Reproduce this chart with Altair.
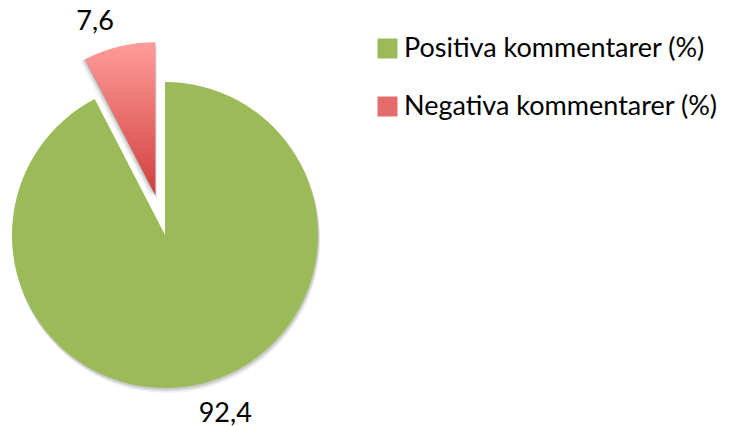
import math
import altair as alt
import pandas as pd

categories = ["Positiva kommentarer (%)", "Negativa kommentarer (%)"]
values = [92.4, 7.6]
colors = ["#9BBB59", "#E46C6A"]

df = pd.DataFrame({"cat": categories, "value": values, "order": [0, 1]})

W, H = 713, 418
CX, CY = 157, 227
R = 153
EXPLODE = 41
LABEL_R = 186
LABEL_SHIFT = 1.45  # percent of circle
FONT = "Lato"
FS = 27

# explode offset for the negative slice along its bisector
mid_neg = (values[0] + values[0] + values[1]) / 2 / 100 * 2 * math.pi
dx = EXPLODE * math.sin(mid_neg)
dy = -EXPLODE * math.cos(mid_neg)

base = alt.Chart(df).transform_window(
    end="sum(value)", sort=[alt.SortField("order")], frame=[None, 0]
).transform_calculate(
    start="datum.end - datum.value",
    mid="(datum.start + datum.end) / 2",
    label="replace(format(datum.value, '.1f'), '.', ',')",
)

theta_scale = alt.Scale(domain=[0, 100], range=[0, 2 * math.pi])
theta = alt.Theta("start:Q", scale=theta_scale)


def shadow(order, ox, oy, off, op):
    return base.transform_filter(alt.datum.order == order).mark_arc(
        x=ox + off * 0.4, y=oy + off, radius=R + 0.5, fill="#000000", opacity=op
    ).encode(theta=theta, theta2="end:Q")


shadows = []
for off, op in [(1.5, 0.10), (3, 0.07), (4.5, 0.05)]:
    shadows.append(shadow(0, CX, CY, off, op))
    shadows.append(shadow(1, CX + dx, CY + dy, off, op))
    shadows.append(
        base.transform_filter(alt.datum.order == 1).mark_arc(
            x=CX + dx - off, y=CY + dy + off * 0.5, radius=R, fill="#000000", opacity=op
        ).encode(theta=theta, theta2="end:Q")
    )

green = base.transform_filter(alt.datum.order == 0).mark_arc(
    x=CX, y=CY, radius=R
).encode(
    theta=theta,
    theta2="end:Q",
    color=alt.Color(
        "cat:N",
        scale=alt.Scale(domain=categories, range=colors),
        sort=categories,
        legend=alt.Legend(
            title=None,
            orient="none",
            legendX=366,
            legendY=27,
            symbolType="square",
            symbolSize=400,
            symbolStrokeWidth=0,
            labelFontSize=FS,
            labelFont=FONT,
            labelColor="#000000",
            labelOffset=3,
            rowPadding=30,
            labelLimit=400,
        ),
    ),
)

red = base.transform_filter(alt.datum.order == 1).mark_arc(
    x=CX + dx,
    y=CY + dy,
    radius=R,
    fill=alt.Gradient(
        gradient="linear",
        x1=0, x2=0, y1=0, y2=1,
        stops=[
            alt.GradientStop(color="#FF9C9A", offset=0),
            alt.GradientStop(color="#D0403D", offset=1),
        ],
    ),
).encode(
    theta=theta,
    theta2="end:Q",
)

labels = base.transform_calculate(
    cx=f"datum.order == 1 ? {CX + dx} : {CX}",
    cy=f"datum.order == 1 ? {CY + dy} : {CY}",
    ang=f"(datum.mid - {LABEL_SHIFT}) / 100 * 2 * PI",
).transform_calculate(
    lx=f"datum.cx + {LABEL_R} * sin(datum.ang)",
    ly=f"datum.cy - {LABEL_R} * cos(datum.ang)",
).mark_text(
    font=FONT, fontSize=FS, color="#000000", align="center", baseline="middle", dy=3
).encode(
    x=alt.X("lx:Q", scale=None),
    y=alt.Y("ly:Q", scale=None),
    text="label:N",
)

chart = alt.layer(*shadows, green, red, labels).properties(
    width=W, height=H, autosize=alt.AutoSizeParams(type="none"), padding=0
).configure_view(stroke=None)

chart.save("out.html", embed_options={"renderer": "svg", "actions": False})
